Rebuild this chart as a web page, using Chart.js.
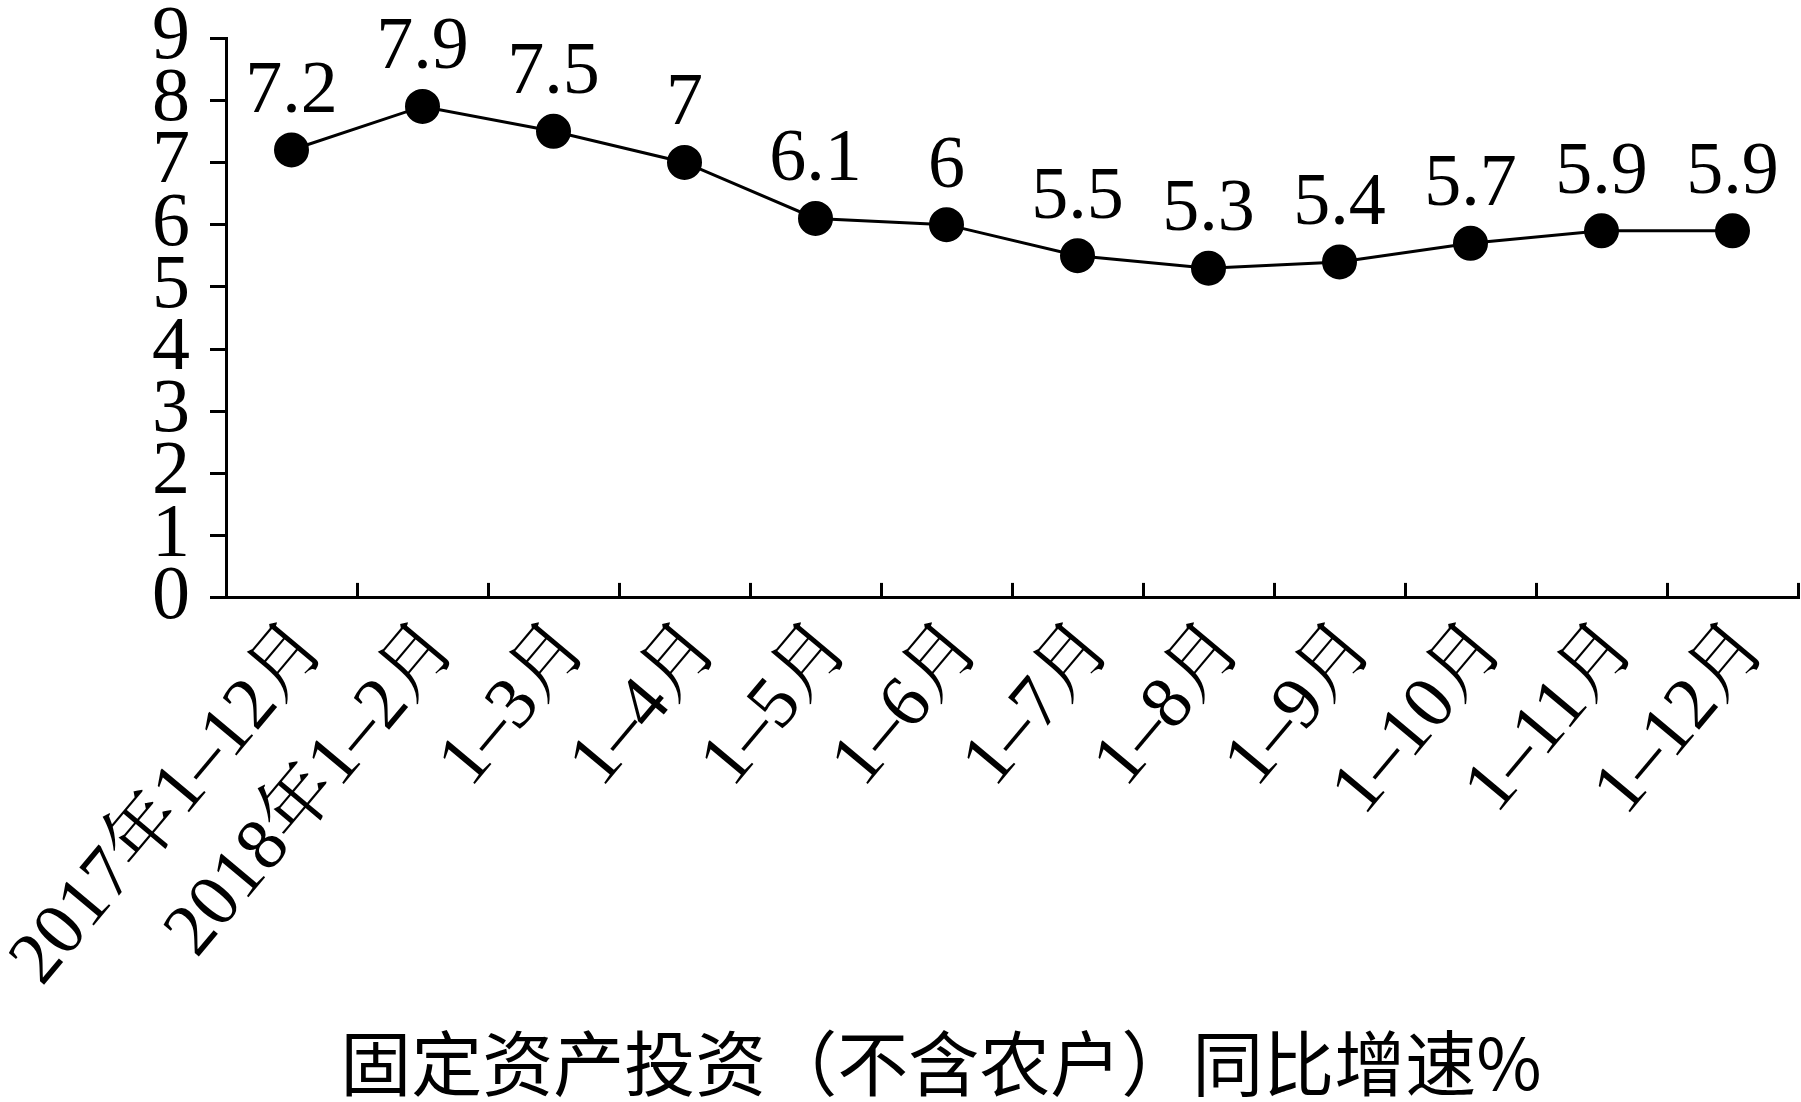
<!DOCTYPE html>
<html>
<head>
<meta charset="utf-8">
<script src="https://cdn.jsdelivr.net/npm/chart.js@4.4.1/dist/chart.umd.min.js"></script>
<style>
  body { margin: 0; background: #fff; }
  #wrap { width: 1801px; height: 1102px; }
</style>
</head>
<body>
<div id="wrap"><canvas id="chartInvest" width="1801" height="1102"></canvas></div>
<script>
// dados do grafico
const categorias = ['2017年1–12月', '2018年1–2月', '1–3月', '1–4月', '1–5月', '1–6月',
  '1–7月', '1–8月', '1–9月', '1–10月', '1–11月', '1–12月']
const crescimento = [7.2, 7.9, 7.5, 7, 6.1, 6, 5.5, 5.3, 5.4, 5.7, 5.9, 5.9]
const ticksY = [0, 1, 2, 3, 4, 5, 6, 7, 8, 9]
const titulo = '固定资产投资（不含农户）同比增速%'

const fonteSerif = '"Liberation Serif", "Times New Roman", "Noto Serif CJK SC", "Noto Sans CJK SC", serif'

// rotulos em cima dos pontos
const rotulosPlugin = {
  id: 'rotulos',
  afterDatasetsDraw(chart) {
    const c = chart.ctx
    const meta = chart.getDatasetMeta(0)
    c.save()
    c.fillStyle = '#000'
    c.font = '74px ' + fonteSerif
    c.textAlign = 'center'
    c.textBaseline = 'alphabetic'
    meta.data.forEach((p, i) => {
      c.fillText(String(chart.data.datasets[0].data[i]), p.x, p.y - 38)
    })
    c.restore()
  }
}

const ctx = document.getElementById('chartInvest')
var chartInvest = new Chart(ctx, {
  type: 'line',
  data: {
    labels: categorias,
    datasets: [{
      label: titulo,
      data: crescimento,
      borderColor: '#000',
      borderWidth: 3,
      backgroundColor: '#000',
      pointBackgroundColor: '#000',
      pointBorderColor: '#000',
      pointRadius: 16,
      pointHoverRadius: 16,
      tension: 0
    }]
  },
  options: {
    responsive: false,
    animation: false,
    layout: { autoPadding: false, padding: { left: 84, top: 38, right: 3, bottom: 0 } },
    plugins: {
      legend: { display: false },
      tooltip: { enabled: false },
      title: {
        display: true,
        position: 'bottom',
        text: titulo,
        color: '#000',
        font: { family: '"Noto Sans CJK SC", sans-serif', size: 71, weight: 'normal', lineHeight: 1.1 },
        padding: { top: 0, bottom: 0 }
      }
    },
    scales: {
      x: {
        offset: true,
        grid: { offset: true, drawOnChartArea: false, color: '#000', lineWidth: 3, tickLength: -15 },
        border: { display: true, color: '#000', width: 3 },
        ticks: {
          color: '#000',
          font: { family: fonteSerif, size: 74, lineHeight: 1 },
          minRotation: 50,
          maxRotation: 50,
          autoSkip: false,
          labelOffset: 21,
          padding: 28
        },
        afterFit(scale) {
          scale.height = 1102 - 78 - 598
          scale.paddingLeft = 0
          scale.paddingRight = 0
        }
      },
      y: {
        min: 0,
        max: 9,
        afterBuildTicks(scale) { scale.ticks = ticksY.map(v => ({ value: v })) },
        grid: { drawOnChartArea: false, color: '#000', lineWidth: 3, tickLength: 16 },
        border: { display: true, color: '#000', width: 3 },
        ticks: {
          color: '#000',
          font: { family: fonteSerif, size: 76, lineHeight: 1 },
          autoSkip: false,
          padding: 20
        },
        afterFit(scale) {
          scale.width = 142
          scale.paddingTop = 0
          scale.paddingBottom = 0
        }
      }
    }
  },
  plugins: [rotulosPlugin]
})
</script>
</body>
</html>
